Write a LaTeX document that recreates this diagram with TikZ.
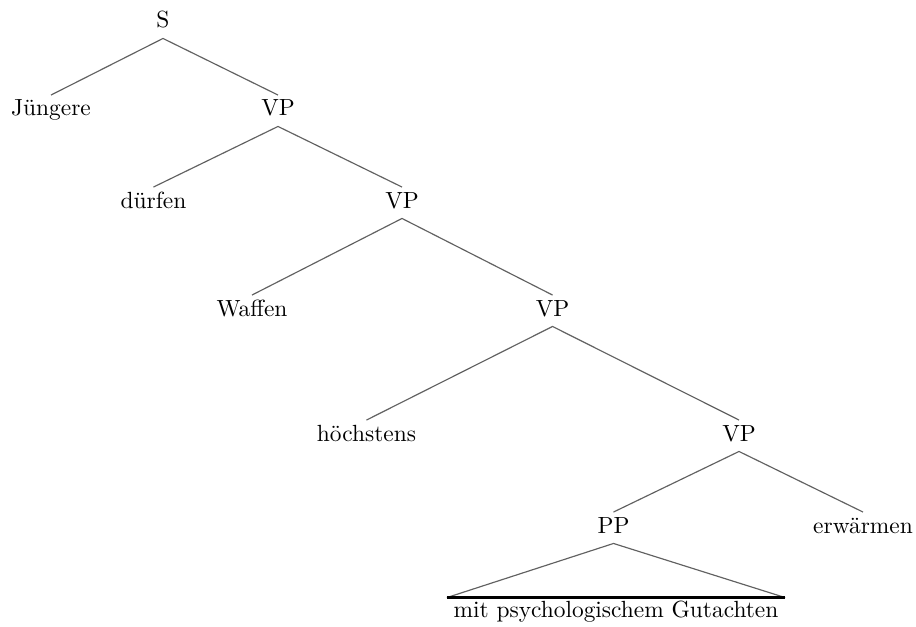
\documentclass[tikz,border=0pt]{standalone}
\begin{document}
\begin{tikzpicture}[x=0.4274pt,y=-0.4274pt,
  tn/.style={anchor=base,inner xsep=0pt,inner ysep=0pt,text height=8.76pt,text depth=4.27pt},
  leaf/.style={anchor=base,inner xsep=2.7pt,inner ysep=0pt,text height=8.1pt,text depth=3pt},
  edge/.style={draw=black!62,line width=0.5pt},
  baseline/.style={draw=black,line width=1pt}]
\useasboundingbox (0,0) rectangle (916,626);
\node[tn] (S) at (163,28) {S};
\node[tn] (J) at (51,116) {Jüngere};
\node[tn] (VPa) at (278,116) {VP};
\node[tn] (d) at (153.5,208) {dürfen};
\node[tn] (VPb) at (402,208) {VP};
\node[tn] (W) at (252,316) {Waffen};
\node[tn] (VPc) at (552.5,316) {VP};
\node[tn] (h) at (366.5,441) {höchstens};
\node[tn] (VPd) at (739,441) {VP};
\node[tn] (PP) at (613.5,533) {PP};
\node[tn] (e) at (863,533) {erwärmen};
\node[leaf] (T) at (616,617) {mit psychologischem Gutachten};
\draw[edge] (S.south) -- (J.north) (S.south) -- (VPa.north);
\draw[edge] (VPa.south) -- (d.north) (VPa.south) -- (VPb.north);
\draw[edge] (VPb.south) -- (W.north) (VPb.south) -- (VPc.north);
\draw[edge] (VPc.south) -- (h.north) (VPc.south) -- (VPd.north);
\draw[edge] (VPd.south) -- (PP.north) (VPd.south) -- (e.north);
\draw[edge] (T.north west) -- (PP.south) -- (T.north east);
\draw[baseline] (T.north west) -- (T.north east);
\end{tikzpicture}
\end{document}
